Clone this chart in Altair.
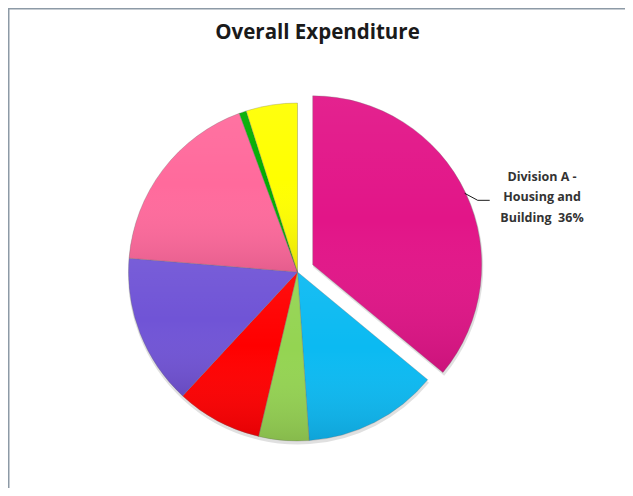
import math
import altair as alt
import pandas as pd

categories = ["Division A - Housing and Building", "Division B", "Division C", "Division D",
              "Division E", "Division F", "Division G", "Division H"]
values = [36.0, 12.9, 4.8, 8.2, 14.4, 18.1, 0.7, 4.9]
colors = ["#E21588", "#0BBAF2", "#94D452", "#FF0000", "#7054D6", "#FF6A9C", "#00AE00", "#FFFF00"]
label_lines = ["Division A -", "Housing and", "Building\u00a0\u00a036%"]
title_text = "Overall Expenditure"

df = pd.DataFrame({
    "category": categories,
    "value": values,
    "order": list(range(len(values))),
    "exploded": [True] + [False] * (len(values) - 1),
})

W, H = 617, 480
CX, CY = 289.5, 264.0
R = 169
EXPLODE = 16.8

total = sum(values)
mid = (values[0] / 2) / total * 2 * math.pi
ex = EXPLODE * math.sin(mid)
ey = -EXPLODE * math.cos(mid)

grad = {
    "gradient": "linear", "x1": 0, "y1": 0, "x2": 0, "y2": 1,
    "stops": [
        {"offset": 0, "color": "rgba(255,255,255,0.06)"},
        {"offset": 0.45, "color": "rgba(255,255,255,0.0)"},
        {"offset": 1, "color": "rgba(40,0,30,0.12)"},
    ],
}

color_enc = alt.Color("category:N", scale=alt.Scale(domain=categories, range=colors), legend=None)
base = alt.Chart(df).encode(
    theta=alt.Theta("value:Q", stack=True),
    order=alt.Order("order:Q"),
)
show_ex = alt.condition(alt.datum.exploded, alt.value(1), alt.value(0))
show_rest = alt.condition(alt.datum.exploded, alt.value(0), alt.value(1))

shadow_rest = base.mark_arc(outerRadius=R + 1, fill="#000000").encode(
    x=alt.value(CX + 0.5), y=alt.value(CY + 2.5),
    opacity=alt.condition(alt.datum.exploded, alt.value(0), alt.value(0.12)))
shadow_ex = base.mark_arc(outerRadius=R + 1, fill="#000000").encode(
    x=alt.value(CX + ex + 0.5), y=alt.value(CY + ey + 2.5),
    opacity=alt.condition(alt.datum.exploded, alt.value(0.12), alt.value(0)))

rest = base.mark_arc(outerRadius=R, stroke="#6a6a6a", strokeWidth=0.6, strokeOpacity=0.5).encode(
    x=alt.value(CX), y=alt.value(CY), color=color_enc, opacity=show_rest)
rest_g = base.mark_arc(outerRadius=R, fill=grad).encode(
    x=alt.value(CX), y=alt.value(CY), opacity=show_rest)
expl = base.mark_arc(outerRadius=R, stroke="#6a6a6a", strokeWidth=0.6, strokeOpacity=0.5).encode(
    x=alt.value(CX + ex), y=alt.value(CY + ey), color=color_enc, opacity=show_ex)
expl_g = base.mark_arc(outerRadius=R, fill=grad).encode(
    x=alt.value(CX + ex), y=alt.value(CY + ey), opacity=show_ex)

# leader line from the mid-angle of the exploded slice
sx = CX + ex + (R - 1) * math.sin(mid)
sy = CY + ey - (R - 1) * math.cos(mid)
leader_df = pd.DataFrame({"px": [sx, sx + 13, sx + 25], "py": [sy, sy + 7, sy + 7], "k": [0, 1, 2]})
leader = alt.Chart(leader_df).mark_line(color="#000000", strokeWidth=0.9).encode(
    x=alt.X("px:Q", scale=None), y=alt.Y("py:Q", scale=None), order="k:Q")

lab_df = pd.DataFrame({"t": label_lines, "i": list(range(len(label_lines)))})
label = alt.Chart(lab_df).transform_calculate(
    ly="168.5 + datum.i * 20.5"
).mark_text(font="Open Sans", fontSize=12.5, fontWeight="bold", color="#333333",
            align="center", baseline="middle").encode(
    x=alt.value(534), y=alt.Y("ly:Q", scale=None), text="t:N")

title = alt.Chart(pd.DataFrame({"t": [title_text]})).mark_text(
    font="Open Sans", fontSize=20.5, fontWeight="bold", color="#1a1a1a",
    align="center", baseline="alphabetic").encode(
    x=alt.value(309.5), y=alt.value(31), text="t:N")

frame_top = alt.Chart(pd.DataFrame({"a": [0]})).mark_rule(color="#8d9aa6", strokeWidth=1.5).encode(
    x=alt.value(0), x2=alt.value(W), y=alt.value(0.75))
frame_left = alt.Chart(pd.DataFrame({"a": [0]})).mark_rule(color="#8d9aa6", strokeWidth=1.5).encode(
    x=alt.value(0.75), y=alt.value(0), y2=alt.value(H))

chart = alt.layer(
    shadow_rest, shadow_ex, rest, rest_g, expl, expl_g, leader, label, title, frame_top, frame_left
).properties(
    width=W, height=H, autosize=alt.AutoSizeParams(type="none"), padding=0,
).configure_view(stroke=None).configure(background="#ffffff")

chart.save("out.html", embed_options={"renderer": "svg", "actions": False})
